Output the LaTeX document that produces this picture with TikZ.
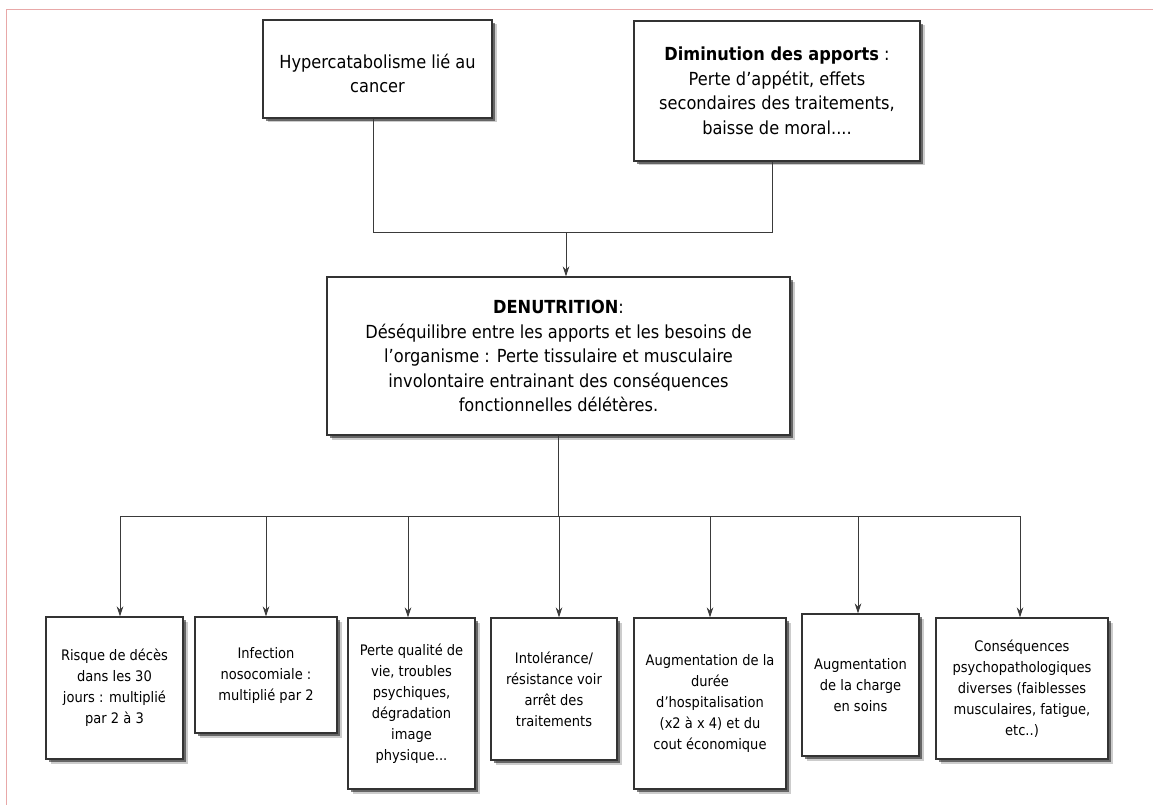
\documentclass[tikz,border=0pt]{standalone}
\usepackage{fontspec}
\setmainfont[FakeStretch=0.9]{DejaVu Sans}
\usetikzlibrary{shadows,arrows.meta}
\definecolor{framepink}{HTML}{E8A8A8}
\definecolor{boxline}{HTML}{333333}
\definecolor{connline}{HTML}{3A3A3A}
\tikzset{
  box/.style={draw=boxline, line width=1.1pt, fill=white, align=center, inner sep=2pt,
    drop shadow={shadow xshift=4.5pt, shadow yshift=-4.5pt, fill=black, opacity=0.2},
    drop shadow={shadow xshift=2.8pt, shadow yshift=-2.8pt, fill=black, opacity=0.5}},
  bigtxt/.style={font=\fontsize{18}{24.5}\selectfont},
  smalltxt/.style={font=\fontsize{14.5}{21}\selectfont},
  conn/.style={draw=connline, line width=0.9pt},
  arr/.style={conn, -{Stealth[length=10pt,width=6.5pt]}},
}
\begin{document}
\begin{tikzpicture}[x=1pt,y=-1pt]
\useasboundingbox (0,0) rectangle (1153,805);
\draw[framepink, line width=1pt] (6,805) -- (6,10) -- (1153,10);

% top boxes
\node[box, bigtxt, minimum width=229pt, minimum height=98pt] (h) at (377.5,69)
  {\rule{0pt}{23pt}Hypercatabolisme lié au\\cancer};
\node[box, bigtxt, minimum width=286pt, minimum height=140pt] (d) at (777,91)
  {\textbf{Diminution des apports} :\\Perte d’appétit, effets\\secondaires des traitements,\\baisse de moral....};

% middle box
\node[box, bigtxt, minimum width=463pt, minimum height=158pt] (m) at (558.5,356)
  {\textbf{DENUTRITION}:\\Déséquilibre entre les apports et les besoins de\\l’organisme : Perte tissulaire et musculaire\\involontaire entrainant des conséquences\\fonctionnelles délétères.};

% bottom boxes
\node[box, smalltxt, minimum width=137pt, minimum height=142pt] (b1) at (114.5,688)
  {Risque de décès\\dans les 30\\jours : multiplié\\par 2 à 3};
\node[box, smalltxt, minimum width=142pt, minimum height=116pt] (b2) at (266,675)
  {Infection\\nosocomiale :\\multiplié par 2};
\node[box, smalltxt, minimum width=127pt, minimum height=171pt] (b3) at (411.5,703.5)
  {Perte qualité de\\vie, troubles\\psychiques,\\dégradation\\image\\physique...};
\node[box, smalltxt, minimum width=126pt, minimum height=142pt] (b4) at (554,689)
  {Intolérance/\\résistance voir\\arrêt des\\traitements};
\node[box, smalltxt, minimum width=152pt, minimum height=171pt] (b5) at (710,703.5)
  {Augmentation de la\\durée\\d’hospitalisation\\(x2 à x 4) et du\\cout économique};
\node[box, smalltxt, minimum width=117pt, minimum height=142pt] (b6) at (860.5,685)
  {Augmentation\\de la charge\\en soins};
\node[box, smalltxt, minimum width=172pt, minimum height=141pt] (b7) at (1022,688.5)
  {Conséquences\\psychopathologiques\\diverses (faiblesses\\musculaires, fatigue,\\etc..)};

% top connectors
\coordinate (j) at (566,232);
\draw[conn] ([xshift=-4.5pt]h.south) |- (j);
\draw[conn] ([xshift=-5pt]d.south) |- (j);
\draw[arr] (j) -- (j |- m.north);

% bottom connectors
\coordinate (t1) at (120,516);
\coordinate (t2) at (266,516);
\coordinate (t3) at (408,516);
\coordinate (t4) at (559,516);
\coordinate (t5) at (710,516);
\coordinate (t6) at (858,516);
\coordinate (t7) at (1020,516);
\draw[conn] (m.south) -- (m.south |- t4);
\draw[conn] (t1) -- (t7);
\foreach \i in {1,...,7}{
  \draw[arr] (t\i) -- (t\i |- b\i.north);
}
\end{tikzpicture}
\end{document}
